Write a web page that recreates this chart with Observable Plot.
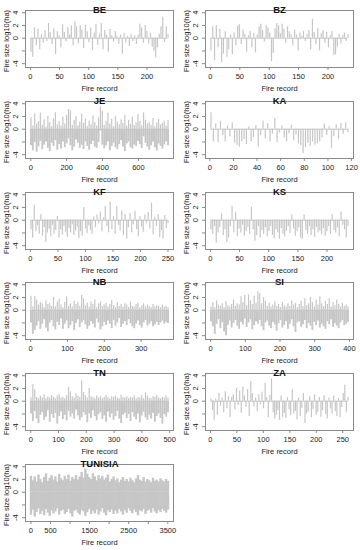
<!DOCTYPE html>
<html><head><meta charset="utf-8">
<script src="https://cdn.jsdelivr.net/npm/d3@7"></script>
<script src="https://cdn.jsdelivr.net/npm/@observablehq/plot@0.6"></script>
<style>
body{margin:0;background:#fff;}
#wrap{position:relative;width:360px;height:550px;overflow:hidden;}
.pan{position:absolute;width:180px;height:92px;}
</style></head><body><div id="wrap"></div>
<script>
// ---- data: fire size log10(ha), sampled along the fire record ----
const nBE = 236, nBZ = 234, nJE = 765, nKA = 117, nKF = 250, nKS = 236, nNB = 373, nSI = 396, nTN = 494, nZA = 260, nTUN = 3505;
const BE = [-2.2,-3.0,1.6,-1.2,1.4,-1.8,0.6,-0.8,1.2,-0.5,2.3,0.8,-1.0,1.5,-2.6,1.0,0.4,-1.5,2.1,0.9,-0.6,1.7,0.5,1.9,-1.2,2.6,1.8,-0.9,2.0,1.3,-1.6,2.0,1.0,-0.7,1.6,-2.0,0.8,2.2,-1.1,0.6,2.3,-1.8,1.2,0.5,-2.2,1.4,0.4,-0.6,1.0,0.3,-1.0,0.5,-2.5,0.7,-0.8,0.3,-1.3,0.6,-0.5,0.4,-1.0,0.5,2.2,1.6,-0.8,2.0,1.1,-0.9,0.8,-1.4,-2.0,-3.1,-1.5,0.6,1.8,3.3,-0.7,1.8,0.6];
const BZ = [-2.0,1.8,-3.5,2.0,-1.5,1.4,-3.8,-2.5,1.0,-3.0,-1.8,0.5,-2.6,0.8,-1.2,1.9,2.1,-1.0,1.3,0.6,-2.2,0.4,1.0,-1.5,0.7,-2.3,0.5,1.8,2.2,1.2,-0.6,2.0,1.6,0.8,-3.7,-2.4,1.5,2.3,1.9,0.7,2.2,1.4,-0.8,1.8,1.0,0.6,-1.2,1.3,0.5,-2.0,0.8,0.3,1.1,-0.5,0.6,1.2,-1.8,3.0,0.9,-1.0,1.5,-2.0,0.7,1.2,-0.8,0.9,-1.5,0.4,1.0,-2.7,-2.6,-1.4,0.6,-0.9,0.4,0.8,-0.5,0.6];
const JE_up = [1.8,0.5,2.4,0.8,1.2,2.5,0.6,1.5,0.3,2.0,1.0,0.4,1.6,2.6,0.7,1.2,0.5,1.9,0.8,2.2,3.1,2.9,0.6,1.4,2.0,0.5,1.1,2.4,0.9,1.6,0.4,1.3,0.7,2.1,1.0,0.5,1.8,3.5,2.8,0.6,1.2,2.5,0.8,1.6,0.4,2.0,1.1,0.7,1.5,0.9,2.2,0.5,1.4,0.8,1.9,0.6,1.0,2.3,1.2,0.5,2.6,1.4,0.8,1.1,0.6,1.7,0.4,1.0,1.5,0.7,0.9,1.3,0.5,1.4];
const JE_dn = [-2.6,-3.4,-2.1,-3.6,-2.8,-1.9,-3.2,-2.5,-2.0,-3.0,-3.5,-2.2,-2.7,-1.8,-3.3,-2.4,-3.1,-2.0,-2.9,-2.3,-1.5,-2.6,-3.4,-2.8,-1.7,-2.2,-3.0,-2.5,-3.2,-2.0,-2.7,-3.3,-2.4,-1.9,-2.8,-3.0,-2.1,-0.3,-2.5,-3.1,-2.6,-2.0,-3.4,-2.7,-2.2,-2.9,-3.2,-2.4,-1.8,-2.8,-3.5,-2.3,-2.0,-2.9,-3.1,-2.5,-2.7,-1.9,-2.4,-3.0,-1.2,-2.2,-2.8,-3.3,-2.6,-2.0,-2.9,-3.4,-2.3,-2.7,-3.1,-2.5,-2.0,-2.6];
const KA = [2.6,-2.0,0.8,-2.1,1.2,-1.0,-2.0,0.5,-1.2,1.0,-2.2,-2.5,-2.8,-2.0,-1.6,-2.4,0.4,-2.0,-1.3,0.6,-2.8,-1.0,1.3,-1.5,0.9,-2.0,-0.8,1.7,-2.1,-0.6,0.5,-1.4,-2.0,-0.7,0.6,-1.8,-0.9,-2.3,-2.6,-3.8,-2.9,-2.2,-2.7,-2.0,-2.5,-2.3,-2.0,-1.4,0.8,-1.0,0.4,-3.0,-1.2,0.7,-1.6,0.9,-0.8,1.0,-0.5];
const KF = [-1.5,-2.8,2.3,-1.8,-0.9,-2.2,0.9,-2.5,-1.2,-3.5,-2.0,-1.4,-2.6,-0.8,-2.2,-1.6,0.6,-2.8,-1.5,-2.3,-1.0,-1.9,-2.7,-1.3,-2.0,-0.7,-2.4,-1.7,-1.1,-2.9,-1.8,-2.5,2.0,-1.4,-2.1,-0.9,-1.6,-2.2,0.5,-1.2,0.8,-0.6,1.3,-1.8,0.4,2.2,-1.0,-2.0,2.8,-1.5,0.6,-2.2,2.2,-0.8,-1.7,1.5,-2.4,0.9,-3.0,-1.2,1.0,-2.0,-0.7,1.4,-1.5,-2.6,0.6,-1.1,-1.9,0.8,-0.6,1.2,-1.4,2.7,-2.3,0.5,-1.0,0.9,-2.7,-1.6,-3.0,0.7,-1.3,-0.5];
const KS = [-1.5,-2.2,-1.0,-3.6,-2.0,-1.2,1.0,-2.4,-1.5,-3.5,-2.8,-1.0,2.2,-2.0,1.2,-2.6,-1.4,-2.0,-0.8,-2.5,-1.8,-1.1,-2.2,2.0,-1.5,-3.3,-2.4,-1.0,-2.8,-1.6,-2.2,-1.2,-2.6,-1.8,-1.0,-2.4,-2.9,-1.5,-2.0,-3.0,-1.3,-2.2,-2.6,-1.7,-1.0,-2.1,0.8,-1.4,-2.5,-1.8,-1.2,-2.8,-3.0,0.8,-1.6,-2.2,-1.0,-2.4,-1.5,-2.7,-1.1,-2.0,-1.7,-2.3,-1.3,-2.5,-1.8,-1.0,-2.2,0.9,-1.6,-2.0,-1.2,-2.6,1.3,-0.8,-1.5,-2.8,-1.0];
const NB_up = [2.2,0.5,2.1,1.6,0.8,1.2,1.0,0.4,1.5,0.9,1.1,0.6,2.0,0.5,1.3,1.7,0.8,0.4,1.2,2.1,0.6,1.0,0.5,1.4,0.9,1.2,0.6,2.3,1.8,0.7,1.1,0.5,1.3,0.9,1.6,0.4,1.0,1.3,0.6,0.8,1.1,0.5,0.9,1.5,0.7,0.4,1.2,0.6,0.9,0.5,1.0,0.8,0.4,1.3,0.6,0.5,0.9,1.1,0.4,0.7,1.0,0.5,0.8,0.6,0.4,0.9,0.5,0.7,0.6,0.4,0.8,0.5,0.6,0.4];
const NB_dn = [-2.0,-3.8,-3.2,-2.5,-1.8,-3.0,-2.2,-1.5,-2.8,-3.4,-2.0,-1.6,-2.6,-3.1,-1.9,-2.4,-1.4,-3.0,-2.2,-1.7,-2.9,-2.4,-1.8,-3.2,-2.1,-1.5,-2.7,-2.0,-1.6,-2.3,-3.0,-2.5,-1.8,-2.2,-2.8,-1.4,-2.0,-3.1,-2.6,-1.9,-2.4,-1.7,-2.2,-2.9,-1.6,-2.5,-2.0,-1.3,-2.7,-2.2,-1.8,-2.4,-1.5,-2.1,-2.6,-2.9,-2.2,-1.7,-2.4,-2.8,-2.0,-1.6,-2.5,-2.2,-1.8,-2.6,-2.3,-1.9,-2.4,-2.0,-1.7,-2.2,-1.9,-2.1];
const SI_up = [0.5,1.2,0.4,1.5,0.8,0.6,1.0,0.4,1.4,0.7,0.5,0.9,1.6,0.6,1.0,0.8,2.1,1.2,2.3,0.7,2.4,1.5,0.9,2.2,1.1,2.9,2.6,1.0,2.0,1.4,0.6,1.1,0.5,0.8,1.3,0.6,0.9,0.4,1.2,0.7,0.5,1.0,0.6,1.5,0.8,1.1,0.4,0.9,1.4,0.6,1.8,0.7,1.0,2.0,1.2,0.5,1.6,0.8,2.1,1.0,0.6,1.4,0.9,1.8,0.5,1.2,0.7,1.6,0.9,0.5,1.1,0.6,0.8,0.5];
const SI_dn = [-1.8,-2.6,-3.8,-2.2,-1.5,-2.9,-2.0,-3.4,-4.0,-2.4,-1.7,-2.8,-2.1,-1.6,-2.5,-3.0,-1.9,-2.3,-1.4,-2.7,-2.0,-1.5,-3.1,-2.4,-1.8,-2.2,-1.6,-2.6,-3.2,-2.0,-1.7,-2.5,-2.9,-1.9,-2.3,-3.3,-2.1,-1.6,-2.8,-2.4,-1.8,-3.0,-2.2,-1.5,-2.6,-3.5,-2.0,-1.8,-2.7,-2.3,-1.6,-2.9,-2.1,-2.5,-3.2,-1.9,-2.4,-1.7,-2.8,-2.2,-2.6,-3.0,-1.8,-2.3,-1.5,-2.7,-2.1,-2.5,-2.9,-2.0,-1.6,-2.4,-2.2,-1.9];
const TN_up = [0.5,2.6,1.8,0.6,0.4,0.8,0.5,1.0,0.4,0.7,0.5,0.9,0.6,0.4,0.8,1.0,0.5,0.6,0.4,0.9,2.2,1.5,0.7,0.5,1.2,0.8,0.6,3.2,1.4,0.9,0.5,2.0,0.7,0.6,0.4,0.8,0.5,0.7,0.4,0.6,0.9,0.5,0.4,0.7,0.6,0.8,0.5,0.4,0.9,0.6,0.5,0.7,0.4,0.6,0.5,0.8,0.4,0.6,0.5,0.9,0.4,1.3,0.8,0.5,0.4,0.7,0.6,0.9,0.5,0.4,0.6,0.5,0.8,0.5];
const TN_dn = [-2.0,-3.2,-1.6,-2.8,-3.5,-2.2,-1.8,-3.0,-2.5,-1.5,-3.3,-2.1,-2.7,-1.9,-3.6,-2.4,-1.7,-2.9,-2.2,-3.1,-1.6,-2.5,-2.0,-2.8,-1.4,-2.3,-3.0,-2.6,-1.8,-2.2,-3.4,-2.0,-2.7,-1.5,-2.4,-3.1,-2.1,-1.8,-2.9,-2.3,-3.3,-1.7,-2.6,-2.0,-3.0,-2.4,-1.6,-2.8,-3.5,-2.2,-1.9,-2.7,-2.1,-3.2,-1.8,-2.5,-2.9,-2.0,-3.4,-2.3,-1.7,-2.6,-3.0,-2.2,-2.8,-1.9,-3.3,-2.4,-2.0,-2.7,-3.6,-2.1,-2.5,-1.8];
const ZA = [0.4,-1.5,-3.0,0.3,-2.2,1.2,-0.8,0.5,-1.8,1.5,-1.2,0.7,-2.5,0.6,1.0,-1.4,2.0,-0.7,1.6,-1.9,2.2,0.8,-1.0,1.8,-2.4,3.1,1.2,-0.9,0.5,-1.6,1.0,-0.6,1.4,-1.2,2.8,0.6,-2.6,0.9,3.5,-1.8,-2.8,-2.2,-1.5,-3.0,0.8,-2.5,-1.9,-2.7,0.6,-1.4,-2.3,1.8,-2.0,-1.6,-2.9,0.5,-2.4,-1.1,1.2,-3.5,-2.0,-1.7,0.7,-2.6,-1.3,1.0,-2.2,-1.8,0.6,-2.5,-1.5,0.9,-2.1,-2.8,0.5,-1.2,-2.0,0.8,-1.6,-2.4,0.4,-2.6,-1.0,1.2,2.5,-1.8,0.6];
const TUN_up = [2.5,1.8,2.4,1.6,2.7,2.0,1.5,2.3,2.9,1.7,2.2,2.6,1.9,2.4,1.6,2.8,2.1,1.8,2.5,2.0,2.7,1.7,2.3,2.0,2.6,1.9,2.4,3.1,2.2,3.6,2.8,2.3,2.0,2.9,2.4,1.8,2.6,2.1,2.5,1.9,2.2,2.7,1.6,2.0,2.4,1.8,2.1,1.5,1.9,2.3,1.7,2.0,1.6,2.2,1.8,1.5,2.1,2.6,1.9,1.7,2.3,1.6,2.0,1.8,1.5,2.2,1.7,1.9,1.6,2.1,1.8,1.6,2.0,1.7];
const TUN_dn = [-3.6,-2.8,-3.9,-3.2,-2.6,-3.5,-3.0,-3.7,-2.7,-3.3,-3.8,-2.9,-3.4,-3.1,-2.6,-3.6,-3.0,-2.8,-3.5,-3.2,-2.7,-3.4,-3.9,-3.0,-2.8,-3.3,-3.6,-2.9,-3.1,-3.8,-3.2,-2.7,-3.5,-3.0,-3.4,-2.8,-3.6,-3.1,-2.6,-3.3,-3.7,-2.9,-3.2,-2.8,-3.5,-3.0,-3.4,-2.7,-3.1,-3.6,-2.9,-3.3,-2.6,-3.0,-3.4,-2.8,-3.2,-3.7,-2.9,-3.1,-2.7,-3.5,-3.0,-2.8,-3.3,-2.6,-3.1,-3.4,-2.9,-3.2,-2.7,-3.0,-3.3,-2.8];

// ---- tick labels ----
const ticks250 = [0,50,100,150,200,250];
const ticks200 = [0,50,100,150,200];
const ticksJE = [0,200,400,600];
const ticksKA = [0,20,40,60,80,100,120];
const ticksNB = [0,100,200,300];
const ticksSI = [0,100,200,300,400];
const ticksTN = [0,100,200,300,400,500];
const ticksTUN = [0,500,1000,1500,2000,2500,3000,3500];
const labelsTUN = [0,500,1500,2500,3500];
const yTicks = [-4,-2,0,2,4];
const yLabels = [4,2,0,-4];

const panels = [
  {title:"BE", n:nBE, sig:BE, xt:ticks200},
  {title:"BZ", n:nBZ, sig:BZ, xt:ticks200},
  {title:"JE", n:nJE, up:JE_up, dn:JE_dn, xt:ticksJE},
  {title:"KA", n:nKA, sig:KA, xt:ticksKA},
  {title:"KF", n:nKF, sig:KF, xt:ticks250},
  {title:"KS", n:nKS, sig:KS, xt:ticks200},
  {title:"NB", n:nNB, up:NB_up, dn:NB_dn, xt:ticksNB},
  {title:"SI", n:nSI, up:SI_up, dn:SI_dn, xt:ticksSI},
  {title:"TN", n:nTN, up:TN_up, dn:TN_dn, xt:ticksTN},
  {title:"ZA", n:nZA, sig:ZA, xt:ticks250},
  {title:"TUNISIA", n:nTUN, up:TUN_up, dn:TUN_dn, xt:ticksTUN, xl:labelsTUN, wide:true}
];

const FONT = "'Liberation Sans', Arial, Helvetica, sans-serif";
const rowH = 90.8;
const SPIKE = "#c6c6c6";

function toRecs(arr, n) {
  const L = arr.length;
  return arr.map((v, i) => ({rec: 1 + i * (n - 1) / (L - 1), v}));
}

function panel(p) {
  const n = p.n, pad = 0.04 * (n - 1);
  const spikeMarks = [Plot.ruleY([0], {x1: 1, x2: n, stroke: SPIKE, strokeWidth: 1})];
  if (p.sig) {
    spikeMarks.push(Plot.ruleX(toRecs(p.sig, n), {x: "rec", y1: 0, y2: "v", stroke: SPIKE, strokeWidth: 1.2}));
  } else {
    spikeMarks.push(Plot.ruleX(toRecs(p.dn, n), {x: "rec", y1: 0, y2: "v", stroke: SPIKE, strokeWidth: p.wide ? 2.4 : 1.9}));
    spikeMarks.push(Plot.ruleX(toRecs(p.up, n), {x: "rec", y1: 0, y2: "v", stroke: SPIKE, strokeWidth: p.wide ? 2.4 : 1.2}));
  }
  const lbl = p.xl || p.xt;
  const mid = {textAnchor: "middle", lineAnchor: "middle"};
  return Plot.plot({
    width: 180, height: 92,
    marginTop: 10, marginBottom: 25, marginLeft: 25, marginRight: 7,
    x: {domain: [1 - pad, n + pad], label: null},
    y: {domain: [-4.6, 4.35], label: null},
    style: {fontFamily: FONT, fontSize: "7.5px", background: "transparent", overflow: "visible", color: "#222"},
    marks: [
      ...spikeMarks,
      Plot.frame({stroke: "#8a8a8a"}),
      Plot.axisX({ticks: p.xt, tickSize: 3, tickPadding: 3, stroke: "#8a8a8a", label: null,
        tickFormat: d => lbl.includes(d) ? String(d) : ""}),
      Plot.axisY({ticks: yTicks, tickSize: 3, stroke: "#8a8a8a", label: null, tickFormat: () => ""}),
      Plot.text(yLabels, {y: d => d, text: d => String(d), frameAnchor: "left", dx: -10, rotate: -90, fill: "#222", ...mid}),
      Plot.text([p.title], {frameAnchor: "top", text: d => d, dy: -0.5, fontWeight: "bold", fontSize: 9.5, fill: "#111", ...mid}),
      Plot.text(["Fire record"], {frameAnchor: "bottom", text: d => d, dy: 21, fill: "#222", ...mid}),
      Plot.text(["Fire size log10(ha)"], {frameAnchor: "left", text: d => d, dx: -19, dy: 2, rotate: -90, fill: "#222", ...mid})
    ]
  });
}

const wrap = document.getElementById("wrap");
panels.forEach((p, i) => {
  const d = document.createElement("div");
  d.className = "pan";
  d.style.left = (i % 2) * 180 + "px";
  d.style.top = Math.floor(i / 2) * rowH + "px";
  d.appendChild(panel(p));
  wrap.appendChild(d);
});
</script></body></html>
